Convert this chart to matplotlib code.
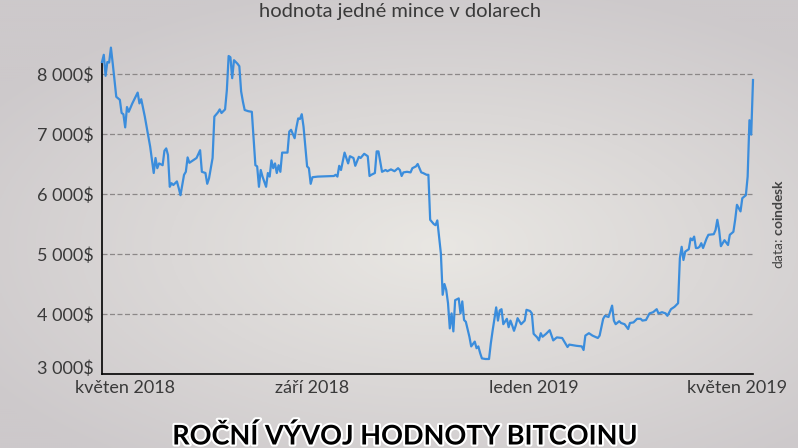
import numpy as np
import pandas as pd
import matplotlib
matplotlib.use("Agg")
import matplotlib.pyplot as plt
import matplotlib.patheffects as pe
import matplotlib.transforms as mtransforms

plt.rcParams['font.family'] = ['Lato', 'DejaVu Sans']
plt.rcParams['mathtext.fontset'] = 'custom'
plt.rcParams['mathtext.rm'] = 'Lato'
plt.rcParams['mathtext.bf'] = 'Lato:bold'

# days since 2018-05-13, price of one bitcoin in USD
start = pd.Timestamp('2018-05-13')
days = [0, 1, 2, 3, 4, 5, 6, 8, 10, 11, 12, 13, 14, 15, 17, 20, 21, 22, 24, 27,
        29, 30, 31, 32, 34, 35, 36, 37, 38, 39, 40, 42, 43, 44, 46, 47, 48, 49, 51, 53,
        55, 56, 58, 59, 60, 62, 63, 65, 66, 67, 69, 70, 71, 72, 73, 74, 76, 77, 78, 79,
        80, 82, 84, 86, 87, 88, 89, 90, 92, 93, 94, 95, 96, 97, 98, 99, 100, 101, 104, 105,
        106, 108, 109, 110, 111, 112, 113, 115, 116, 117, 118, 121, 130, 131, 132, 133, 134, 136, 138, 139,
        141, 142, 144, 145, 147, 149, 150, 151, 153, 154, 155, 157, 159, 160, 162, 164, 166, 167, 168, 169,
        171, 173, 174, 176, 177, 179, 180, 182, 183, 184, 186, 187, 188, 190, 191, 192, 193, 194, 195, 196,
        197, 198, 200, 201, 202, 203, 204, 206, 207, 209, 210, 211, 212, 213, 215, 217, 218, 219, 221, 222,
        223, 224, 225, 227, 228, 229, 230, 231, 232, 233, 235, 237, 238, 240, 241, 242, 244, 245, 246, 247,
        249, 251, 253, 255, 258, 261, 262, 266, 269, 270, 271, 273, 275, 278, 279, 281, 282, 284, 286, 287,
        288, 290, 291, 293, 295, 296, 298, 300, 302, 303, 305, 307, 309, 311, 312, 314, 316, 317, 319, 321,
        323, 324, 325, 326, 327, 329, 330, 331, 332, 333, 334, 335, 336, 337, 339, 340, 343, 344, 345, 346,
        347, 348, 349, 351, 352, 354, 355, 356, 358, 359, 361, 362, 363, 364, 365]
price = [8200, 8320, 7970, 8200, 8190, 8440, 8180, 7620, 7570, 7350, 7330, 7110, 7450, 7370, 7510, 7690, 7510, 7580, 7290, 6790,
         6350, 6600, 6430, 6510, 6480, 6720, 6760, 6650, 6120, 6180, 6150, 6210, 6100, 5980, 6320, 6370, 6610, 6520, 6560, 6600,
         6730, 6370, 6350, 6170, 6260, 6600, 7290, 7360, 7410, 7350, 7410, 7730, 8300, 8280, 7930, 8230, 8170, 8130, 7710, 7540,
         7400, 7380, 7370, 6480, 6460, 6120, 6400, 6290, 6120, 6350, 6290, 6560, 6430, 6510, 6350, 6480, 6370, 6690, 6690, 7040,
         7070, 6930, 7110, 7260, 7250, 7330, 7120, 6460, 6430, 6170, 6280, 6290, 6300, 6320, 6290, 6470, 6400, 6690, 6510, 6630,
         6600, 6470, 6620, 6600, 6670, 6630, 6300, 6320, 6350, 6710, 6710, 6370, 6400, 6380, 6410, 6380, 6430, 6400, 6300, 6360,
         6370, 6360, 6430, 6460, 6500, 6360, 6350, 6320, 6320, 5570, 5500, 5480, 5560, 5010, 4320, 4500, 4400, 4180, 3760, 4010,
         3710, 4230, 4260, 4010, 4210, 3900, 3870, 3620, 3460, 3540, 3430, 3460, 3350, 3260, 3250, 3250, 3510, 3720, 4110, 3890,
         4060, 4080, 3830, 3920, 3780, 3890, 3810, 3720, 3810, 3930, 3830, 3890, 4070, 4050, 4010, 3670, 3610, 3560, 3680, 3620,
         3670, 3730, 3560, 3610, 3600, 3450, 3490, 3470, 3460, 3400, 3640, 3680, 3640, 3600, 3640, 3920, 3970, 3950, 4140, 3890,
         3830, 3880, 3850, 3830, 3750, 3850, 3860, 3920, 3920, 3890, 3900, 4010, 4030, 4080, 4010, 4030, 4010, 3970, 4080, 4120,
         4180, 4930, 5120, 4900, 5040, 5080, 5260, 5230, 5290, 5100, 5100, 5120, 5180, 5100, 5260, 5320, 5330, 5400, 5570, 5400,
         5130, 5180, 5230, 5150, 5320, 5370, 5570, 5820, 5710, 5930, 5980, 6290, 7230, 6990, 7900]
assert len(days) == len(price)

y_ticks = [3000, 4000, 5000, 6000, 7000, 8000]
y_labels = ['3 000$', '4 000$', '5 000$', '6 000$', '7 000$', '8 000$']
x_tick_dates = ['2018-05-26', '2018-09-08', '2019-01-10', '2019-05-04']
x_labels = ['květen 2018', 'září 2018', 'leden 2019', 'květen 2019']

dates = start + pd.to_timedelta(days, unit='D')

fig = plt.figure(figsize=(7.98, 4.48), dpi=100)

# soft gray background
bg = fig.add_axes([0, 0, 1, 1], zorder=-10)
yy, xx = np.mgrid[0:1:224j, 0:1:399j]
r = np.sqrt(((xx - 0.55) / 0.9) ** 2 + ((yy - 0.55) / 0.8) ** 2)
r = np.clip(r / 0.75, 0, 1)
c_in = np.array([233, 231, 227]) / 255
c_out = np.array([205, 201, 203]) / 255
img = c_in[None, None, :] * (1 - r[..., None]) + c_out[None, None, :] * r[..., None]
bg.imshow(img, aspect='auto', extent=[0, 1, 0, 1], origin='upper')
bg.axis('off')

ax = fig.add_axes([102 / 798, 74 / 448, 651 / 798, 312 / 448])
ax.set_facecolor('none')
ax.plot(dates, price, color='#3b8ddc', lw=1.6, clip_on=False, zorder=3)

ax.set_xlim(start, start + pd.Timedelta(days=365))
ax.set_ylim(3000, 8200)
ax.set_yticks(y_ticks)
ax.set_yticklabels(y_labels)
ax.set_xticks(pd.to_datetime(x_tick_dates))
ax.set_xticklabels(x_labels)
ax.tick_params(length=0, labelsize=13, colors='#3a3a3a', pad=6)
ax.tick_params(axis='x', pad=4)

# lowest label sits a bit above the axis line
lab0 = ax.get_yticklabels()[0]
lab0.set_transform(lab0.get_transform() + mtransforms.ScaledTranslation(0, 7 / 100, fig.dpi_scale_trans))

for v in y_ticks[1:]:
    ax.axhline(v, color='#8c8888', lw=0.9, ls=(0, (4, 2)), zorder=1)

for s in ['top', 'right']:
    ax.spines[s].set_visible(False)
ax.spines['left'].set_linewidth(1.2)
ax.spines['bottom'].set_linewidth(1.2)

fig.text(400 / 798, 1 - 12 / 448, 'hodnota jedné mince v dolarech', ha='center', va='center',
         fontsize=14.5, color='#3a3a3a')
fig.text(405 / 798, 1 - 436 / 448, 'ROČNÍ VÝVOJ HODNOTY BITCOINU', ha='center', va='center',
         fontsize=19.5, fontweight='bold', color='black',
         path_effects=[pe.withStroke(linewidth=3, foreground='white')])
fig.text(778 / 798, 1 - 224 / 448, r'data: $\bf{coindesk}$', ha='center', va='center',
         rotation=90, fontsize=10, color='#444444')

fig.savefig('out.png', dpi=100)
